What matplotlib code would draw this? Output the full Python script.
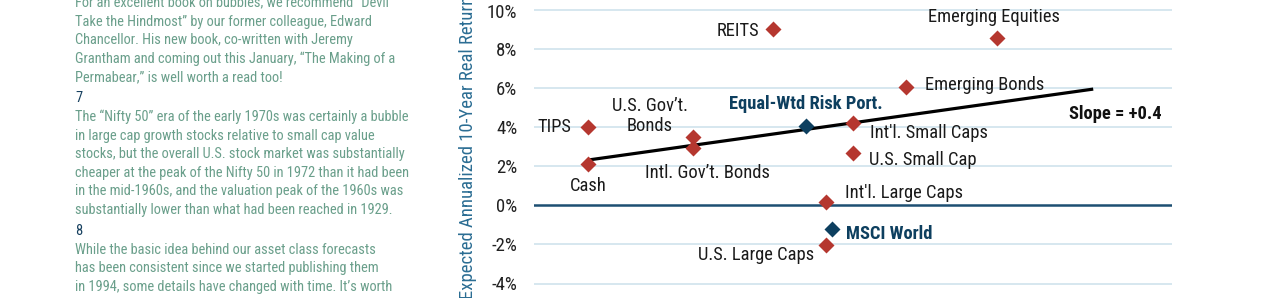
import matplotlib
matplotlib.use('Agg')
import matplotlib.pyplot as plt

plt.rcParams['font.family'] = ['Roboto Condensed', 'Liberation Sans Narrow', 'Roboto', 'DejaVu Sans']

# ---- data ----
names = ['REITS', 'Emerging Equities', 'Emerging Bonds', 'TIPS', "U.S. Gov’t.\nBonds",
         "Intl. Gov’t. Bonds", 'Cash', "Int'l. Small Caps", 'U.S. Small Cap',
         "Int'l. Large Caps", 'U.S. Large Caps']
risk = [4.31, 8.34, 6.70, 0.97, 2.86, 2.86, 0.97, 5.75, 5.75, 5.27, 5.27]
ret = [9.05, 8.60, 6.09, 4.00, 3.53, 2.96, 2.11, 4.22, 2.68, 0.16, -2.03]

port_names = ['Equal-Wtd Risk Port.', 'MSCI World']
port_risk = [4.90, 5.37]
port_ret = [4.09, -1.22]

fit_x = [0.97, 10.08]
fit_y = [2.33, 5.97]
yticks = [-4, -2, 0, 2, 4, 6, 8, 10]

notes = [
    ('t', 'For an excellent book on bubbles, we recommend “Devil'),
    ('t', 'Take the Hindmost” by our former colleague, Edward'),
    ('t', 'Chancellor. His new book, co-written with Jeremy'),
    ('t', 'Grantham and coming out this January, “The Making of a'),
    ('t', 'Permabear,” is well worth a read too!'),
    ('n', '7'),
    ('t', 'The “Nifty 50” era of the early 1970s was certainly a bubble'),
    ('t', 'in large cap growth stocks relative to small cap value'),
    ('t', 'stocks, but the overall U.S. stock market was substantially'),
    ('t', 'cheaper at the peak of the Nifty 50 in 1972 than it had been'),
    ('t', 'in the mid-1960s, and the valuation peak of the 1960s was'),
    ('t', 'substantially lower than what had been reached in 1929.'),
    ('n', '8'),
    ('t', 'While the basic idea behind our asset class forecasts'),
    ('t', 'has been consistent since we started publishing them'),
    ('t', 'in 1994, some details have changed with time. It’s worth'),
]

# label offsets in pixels (dx, dy, ha)
offs = {
    'REITS': (-14, -2, 'right'),
    'Emerging Equities': (-3, 21, 'center'),
    'Emerging Bonds': (19, 2, 'left'),
    'TIPS': (-16, 0, 'right'),
    "U.S. Gov’t.\nBonds": (-43, 21, 'center'),
    "Intl. Gov’t. Bonds": (15, -25, 'center'),
    'Cash': (0, -22, 'center'),
    "Int'l. Small Caps": (17, -10, 'left'),
    'U.S. Small Cap': (16, -7, 'left'),
    "Int'l. Large Caps": (19, 9, 'left'),
    'U.S. Large Caps': (-12, -10, 'right'),
    'Equal-Wtd Risk Port.': (0, 22, 'center'),
    'MSCI World': (14, -5, 'left'),
}

W, H = 1275, 298
fig = plt.figure(figsize=(12.75, 2.98), dpi=100)

red = '#b5372f'
navy = '#0d3f5f'
grid = '#cfe3ec'

# axes placed so that the page crop matches: 0% at y=205.5px, 19.5px per %
ylo, yhi = -6, 12
ppu = 19.5
top_px = 205.5 - yhi * ppu
bot_px = 205.5 - ylo * ppu
ax = fig.add_axes([534 / W, 1 - bot_px / H, 638 / W, (bot_px - top_px) / H])
ax.set_xlim(0, 11.5)
ax.set_ylim(ylo, yhi)
for s in ax.spines.values():
    s.set_visible(False)
ax.set_xticks([])
ax.set_yticks(yticks)
ax.set_yticklabels(['%d%%' % v for v in yticks], fontsize=13.5, color='#222222')
ax.tick_params(axis='y', length=0, pad=12)
for v in yticks:
    if v == 0:
        ax.axhline(v, color='#1d4f72', lw=1.8, zorder=1)
    else:
        ax.axhline(v, color=grid, lw=1.2, zorder=0)

ax.plot(fit_x, fit_y, color='black', lw=2.3, zorder=2, solid_capstyle='butt')
ax.plot(risk, ret, 'D', ms=8.2, color=red, mec='none', zorder=3)
ax.plot(port_risk, port_ret, 'D', ms=7.8, color=navy, mec='none', zorder=3)

for n, x, y in zip(names, risk, ret):
    dx, dy, ha = offs[n]
    ax.annotate(n, (x, y), xytext=(dx * 0.72, dy * 0.72), textcoords='offset points',
                ha=ha, va='center', fontsize=13.3, color='#1a1a1a', linespacing=1.15)
for n, x, y in zip(port_names, port_risk, port_ret):
    dx, dy, ha = offs[n]
    ax.annotate(n, (x, y), xytext=(dx * 0.72, dy * 0.72), textcoords='offset points',
                ha=ha, va='center', fontsize=13.3, color=navy, fontweight='bold')

ax.text(1162 / W, 1 - 114 / H, 'Slope = +0.4', transform=fig.transFigure,
        ha='right', va='center', fontsize=13.3, fontweight='bold', color='#111111')

fig.text(468 / W, 1 - 147 / H, 'Expected Annualized 10-Year Real Return',
         rotation=90, ha='center', va='center', fontsize=13.5, color='#2b6d93')

# footnote column
y = 3.0
first = True
for kind, line in notes:
    if not first:
        y += 18.6
    if kind == 'n':
        y += 2.5
    first = False
    if kind == 'n':
        fig.text(75 / W, 1 - y / H, line, ha='left', va='center', fontsize=10.4,
                 color='#16405f')
    else:
        fig.text(75 / W, 1 - y / H, line, ha='left', va='center', fontsize=10.4,
                 color='#6a9f8b')

fig.savefig('out.png', dpi=100)
